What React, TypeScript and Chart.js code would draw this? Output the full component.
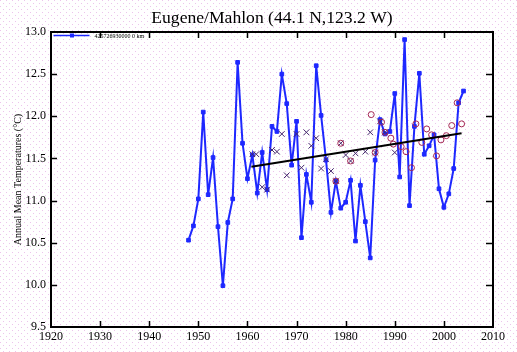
import { useEffect, useRef } from "react";
import { Chart, registerables } from "chart.js";

Chart.register(...registerables);

const chartTitle = "Eugene/Mahlon (44.1 N,123.2 W)";
const yAxisTitle = "Annual Mean Temperatures (°C)";
const seriesLabel = "425726930000 0 km";

const years = [
  1948, 1949, 1950, 1951, 1952, 1953, 1954, 1955, 1956, 1957, 1958, 1959,
  1960, 1961, 1962, 1963, 1964, 1965, 1966, 1967, 1968, 1969, 1970, 1971,
  1972, 1973, 1974, 1975, 1976, 1977, 1978, 1979, 1980, 1981, 1982, 1983,
  1984, 1985, 1986, 1987, 1988, 1989, 1990, 1991, 1992, 1993, 1994, 1995,
  1996, 1997, 1998, 1999, 2000, 2001, 2002, 2003, 2004,
];
const meanTemps = [
  10.53, 10.7, 11.02, 12.05, 11.07, 11.51, 10.69, 9.99, 10.74, 11.02, 12.64, 11.68,
  11.26, 11.54, 11.09, 11.57, 11.13, 11.88, 11.82, 12.5, 12.15, 11.42, 11.94, 10.56,
  11.31, 10.98, 12.6, 12.01, 11.48, 10.86, 11.23, 10.91, 10.98, 11.24, 10.52, 11.18,
  10.75, 10.32, 11.48, 11.96, 11.79, 11.82, 12.27, 11.28, 12.91, 10.94, 11.88, 12.51,
  11.55, 11.65, 11.78, 11.14, 10.92, 11.08, 11.38, 12.16, 12.3,
];

const crossYears = [
  1961, 1961.8, 1963, 1964, 1965, 1966, 1967, 1968, 1970, 1971, 1972, 1973, 1974,
  1975, 1976, 1977, 1978, 1979, 1980, 1981, 1982, 1984, 1985, 1986, 1987, 1988, 1990,
];
const crossTemps = [
  11.55, 11.55, 11.16, 11.13, 11.6, 11.58, 11.79, 11.3, 11.79, 11.39, 11.81, 11.65, 11.74,
  11.38, 11.49, 11.35, 11.23, 11.68, 11.54, 11.47, 11.56, 11.58, 11.81, 11.57, 11.94, 11.81, 11.57,
];

const circleYears = [
  1978, 1979, 1981, 1985.2, 1986, 1987.3, 1988, 1989.2, 1989.7, 1991.3, 1992.3,
  1993.4, 1994.3, 1995.5, 1996.5, 1997.5, 1998.5, 1999.4, 2000.5, 2001.6, 2002.7, 2003.6,
];
const circleTemps = [
  11.23, 11.68, 11.47, 12.02, 11.57, 11.93, 11.81, 11.74, 11.67, 11.64, 11.58,
  11.39, 11.91, 11.69, 11.85, 11.78, 11.53, 11.72, 11.77, 11.89, 12.16, 11.91,
];

const trendYears = [1960.8, 2003.6];
const trendTemps = [11.4, 11.8];

const xTicks = [1920, 1930, 1940, 1950, 1960, 1970, 1980, 1990, 2000, 2010];
const yTicks = [9.5, 10.0, 10.5, 11.0, 11.5, 12.0, 12.5, 13.0];

const BLUE = "rgb(30,40,255)";
const SERIF = "'Liberation Serif', 'DejaVu Serif', serif";

const zip = (xs: number[], ys: number[]) => xs.map((x, i) => ({ x, y: ys[i] }));

const decorPlugin = {
  id: "decor",
  beforeDraw(chart: any) {
    const { ctx, width, height } = chart;
    ctx.save();
    ctx.fillStyle = "#ffffff";
    ctx.fillRect(0, 0, width, height);
    const tile = document.createElement("canvas");
    tile.width = 6;
    tile.height = 6;
    const t = tile.getContext("2d")!;
    t.fillStyle = "rgb(236,196,236)";
    t.fillRect(0, 0, 1, 1);
    t.fillRect(3, 3, 1, 1);
    const pat = ctx.createPattern(tile, "repeat");
    if (pat) {
      ctx.fillStyle = pat;
      ctx.fillRect(0, 0, width, height);
    }
    ctx.restore();
  },
  afterDatasetsDraw(chart: any) {
    const { ctx, chartArea: a, scales } = chart;
    ctx.save();
    ctx.strokeStyle = "#000";
    ctx.lineWidth = 1.5;
    const xs = scales.x;
    const ys = scales.y;
    xTicks.slice(1, -1).forEach((v) => {
      const px = Math.round(xs.getPixelForValue(v)) + 0.5;
      ctx.beginPath();
      ctx.moveTo(px, a.bottom);
      ctx.lineTo(px, a.bottom - 6);
      ctx.moveTo(px, a.top);
      ctx.lineTo(px, a.top + 6);
      ctx.stroke();
    });
    yTicks.slice(1, -1).forEach((v) => {
      const py = Math.round(ys.getPixelForValue(v)) + 0.5;
      ctx.beginPath();
      ctx.moveTo(a.left, py);
      ctx.lineTo(a.left + 6, py);
      ctx.moveTo(a.right, py);
      ctx.lineTo(a.right - 7, py);
      ctx.stroke();
    });
    ctx.lineWidth = 2;
    ctx.strokeRect(a.left, a.top, a.right - a.left, a.bottom - a.top);

    // legend inside plot
    const ly = a.top + 3.5;
    ctx.strokeStyle = BLUE;
    ctx.lineWidth = 1.5;
    ctx.beginPath();
    ctx.moveTo(a.left + 2.5, ly);
    ctx.lineTo(a.left + 38.5, ly);
    ctx.stroke();
    ctx.fillStyle = BLUE;
    ctx.fillRect(a.left + 19, ly - 2, 4, 4);
    ctx.fillStyle = "#000";
    ctx.font = `6px ${SERIF}`;
    ctx.textBaseline = "alphabetic";
    ctx.textAlign = "left";
    ctx.fillText(chart.data.datasets[3].label, a.left + 43.5, ly + 2);

    // title
    ctx.font = `17.6px ${SERIF}`;
    ctx.textAlign = "center";
    ctx.fillText(chartTitle, (a.left + a.right) / 2, 23);
    ctx.restore();
  },
};

export default function App() {
  const ref = useRef<HTMLCanvasElement | null>(null);
  useEffect(() => {
    if (!ref.current) return;
    const chart = new Chart(ref.current, {
      type: "line",
      data: {
        datasets: [
          {
            label: "trend",
            data: zip(trendYears, trendTemps),
            borderColor: "#000",
            borderWidth: 2,
            pointRadius: 0,
            order: 0,
          },
          {
            label: "circles",
            data: zip(circleYears, circleTemps),
            showLine: false,
            pointStyle: "circle",
            pointRadius: 3,
            pointBorderWidth: 1,
            pointBorderColor: "rgb(165,40,85)",
            pointBackgroundColor: "rgba(0,0,0,0)",
            order: 1,
          },
          {
            label: "crosses",
            data: zip(crossYears, crossTemps),
            showLine: false,
            pointStyle: "crossRot",
            pointRadius: 4,
            pointBorderWidth: 1,
            pointBorderColor: "rgb(70,40,110)",
            order: 2,
          },
          {
            label: seriesLabel,
            data: zip(years, meanTemps),
            borderColor: BLUE,
            borderWidth: 2,
            pointStyle: "rect",
            pointRadius: 2.6,
            pointBorderWidth: 1,
            pointBackgroundColor: BLUE,
            pointBorderColor: BLUE,
            tension: 0,
            order: 3,
          },
        ],
      },
      options: {
        responsive: false,
        animation: false,
        events: [],
        layout: { padding: { left: 0, right: 24, top: 32, bottom: 0 } },
        plugins: {
          legend: { display: false },
          title: { display: false },
          tooltip: { enabled: false },
        },
        scales: {
          x: {
            type: "linear",
            min: 1920,
            max: 2010,
            grid: { display: false, drawTicks: false },
            border: { display: false },
            afterFit: (s: any) => {
              s.height = 25;
            },
            afterBuildTicks: (s: any) => {
              s.ticks = xTicks.map((v) => ({ value: v }));
            },
            ticks: {
              padding: 3,
              maxRotation: 0,
              autoSkip: false,
              color: "#000",
              font: { family: SERIF, size: 12 },
              callback: (v: any) => String(v),
            },
          },
          y: {
            type: "linear",
            min: 9.5,
            max: 13.0,
            grid: { display: false, drawTicks: false },
            border: { display: false },
            afterFit: (s: any) => {
              s.width = 51;
            },
            afterBuildTicks: (s: any) => {
              s.ticks = yTicks.map((v) => ({ value: v }));
            },
            ticks: {
              padding: 5,
              autoSkip: false,
              color: "#000",
              font: { family: SERIF, size: 12 },
              callback: (v: any) => Number(v).toFixed(1),
            },
            title: {
              display: true,
              text: yAxisTitle,
              color: "#000",
              font: { family: SERIF, size: 10 },
              padding: { top: 12, bottom: 0 },
            },
          },
        },
      },
      plugins: [decorPlugin],
    });
    return () => chart.destroy();
  }, []);

  return (
    <div style={{ position: "fixed", left: 0, top: 0, width: 517, height: 352 }}>
      <canvas ref={ref} width={517} height={352} style={{ display: "block" }} />
    </div>
  );
}
